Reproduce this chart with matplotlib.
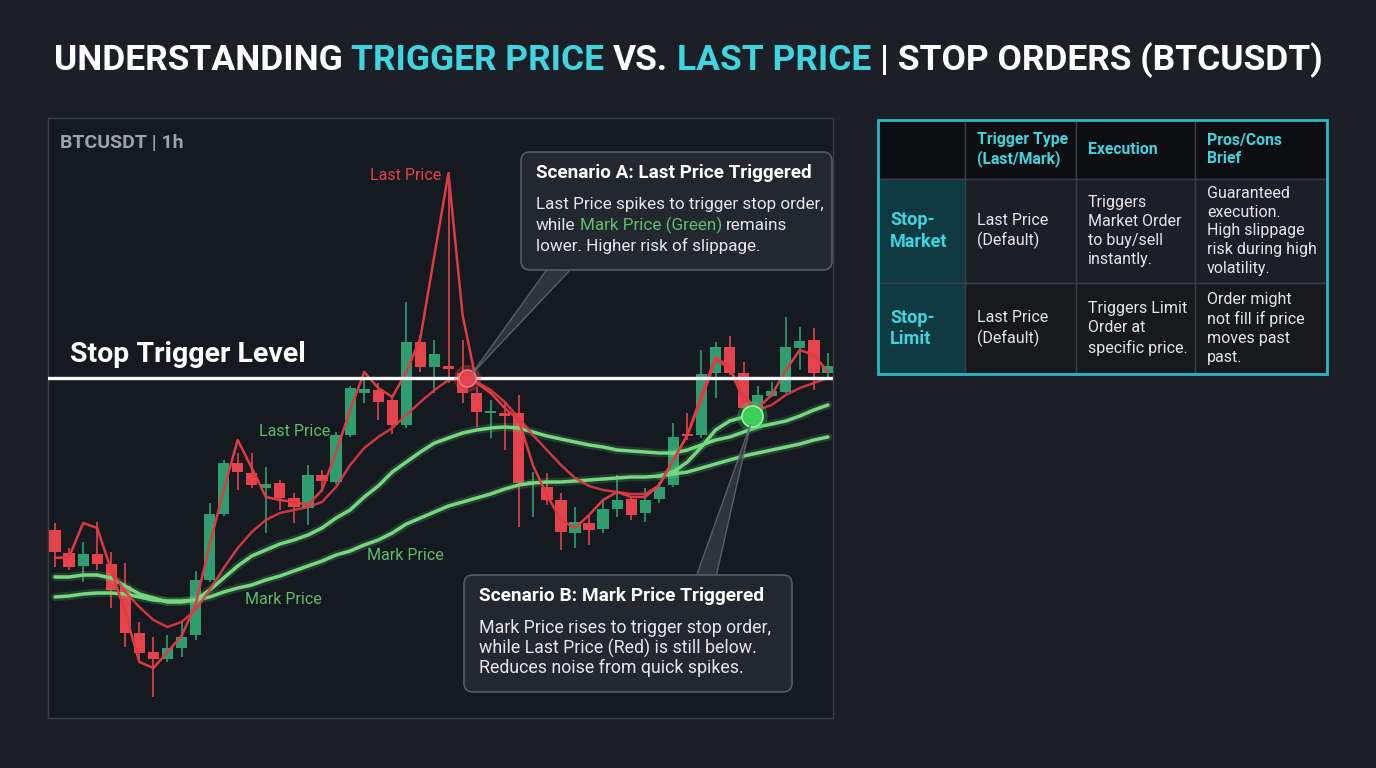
#!/usr/bin/env python3
"""Trigger price vs last price explainer chart (BTCUSDT 1h, stop orders)."""
import matplotlib

matplotlib.use("Agg")
import matplotlib.pyplot as plt
import numpy as np
from matplotlib.patches import FancyBboxPatch, Polygon, Rectangle

plt.rcParams["font.family"] = ["Roboto", "DejaVu Sans"]

BG = "#1c1f26"
PANEL = "#151920"
CYAN = "#40d4e0"
UP = "#2f9e6e"
DOWN = "#e5434b"
RED_LINE = "#e03a43"
GREEN_LINE = "#74d87e"
LABEL_GREEN = "#5fbd6c"
TEXT = "#e4e6e9"

# candle data, relative price levels (hourly)
opens = [170, 147, 134, 146, 136, 114, 67, 48, 41, 52, 65, 120, 186, 237, 227, 212,
         217, 202, 192, 225, 218, 265, 307, 310, 300, 275, 358, 333, 334, 327, 307, 287,
         287, 287, 216, 213, 200, 167, 177, 171, 191, 201, 187, 201, 215, 266, 265, 327,
         353, 327, 288, 304, 308, 352, 360, 327]
highs = [177, 152, 158, 178, 148, 137, 78, 63, 65, 78, 129, 197, 240, 247, 247, 233,
         220, 207, 235, 230, 268, 314, 320, 317, 303, 398, 365, 360, 525, 360, 313, 300,
         297, 305, 228, 227, 207, 193, 185, 200, 225, 204, 212, 218, 277, 287, 350, 358,
         364, 338, 314, 318, 383, 373, 372, 347]
lows = [133, 130, 118, 130, 92, 53, 40, 3, 38, 43, 60, 118, 184, 210, 212, 167,
        190, 177, 175, 208, 216, 263, 297, 280, 266, 272, 328, 307, 317, 297, 273, 262,
        250, 173, 183, 195, 150, 152, 155, 167, 183, 180, 178, 197, 213, 260, 262, 302,
        325, 290, 287, 303, 307, 330, 310, 320]
closes = [148, 133, 146, 136, 110, 67, 47, 41, 52, 63, 120, 186, 237, 228, 215, 216,
          202, 193, 225, 219, 265, 312, 311, 298, 275, 358, 333, 346, 331, 307, 288, 289,
          284, 217, 219, 200, 168, 178, 170, 191, 200, 185, 200, 213, 263, 264, 326, 353,
          327, 292, 305, 309, 353, 359, 327, 334]

last_price = [142, 143, 177, 172, 130, 87, 38, 32, 48, 64, 95, 155, 210, 260, 232, 203,
              200, 198, 195, 210, 248, 290, 328, 312, 303, 328, 362, 445, 527, 385, 317, 307,
              292, 280, 235, 205, 180, 172, 185, 200, 208, 203, 203, 215, 240, 265, 305, 343,
              332, 300, 292, 305, 330, 350, 345, 328]
last_price_avg = [130, 108, 93, 80, 73, 78, 90, 110, 132, 152, 168, 180, 187, 190, 193, 198,
                  213, 235, 252, 263, 272, 285, 298, 310, 320, 322, 318, 310, 298, 282, 265, 250,
                  235, 222, 214, 210, 208, 206, 206, 215, 240, 265, 300, 340, 332, 305, 290, 295,
                  305, 312, 317, 322]  # starts at candle 4
mark_fast = [123, 123, 125, 125, 122, 114, 106, 102, 98, 98, 100, 110, 122, 134, 144, 150,
             156, 160, 165, 172, 182, 190, 203, 214, 228, 238, 248, 257, 262, 267, 270, 272,
             273, 272, 268, 264, 261, 258, 255, 253, 250, 249, 248, 247, 247, 250, 255, 260,
             263, 268, 273, 276, 279, 284, 290, 295]
mark_slow = [103, 104, 106, 107, 107, 106, 103, 100, 99, 99, 100, 103, 108, 112, 115, 120,
             124, 129, 134, 139, 145, 149, 155, 160, 167, 176, 182, 188, 194, 198, 202, 206,
             211, 215, 217, 218, 218, 219, 220, 221, 222, 223, 223, 224, 226, 228, 232, 236,
             240, 244, 247, 250, 253, 256, 260, 263]
mark_trigger = [224, 228, 238, 253, 270, 279, 283]  # candles 43-49
STOP_LEVEL = 322
LAST_TRIGGER = (29.3, 322)
MARK_TRIGGER = (49.6, 284)

fig = plt.figure(figsize=(13.76, 7.68), dpi=100, facecolor=BG)

# price panel
ax = fig.add_axes([48 / 1376, 50 / 768, 785 / 1376, 600 / 768])
ax.set_facecolor(PANEL)
for sp in ax.spines.values():
    sp.set_color("#3a3f48")
    sp.set_linewidth(1.0)
ax.set_xticks([])
ax.set_yticks([])
ax.set_xlim(-0.5, 55.36)
ax.set_ylim(-18, 582)

o = np.array(opens)
h = np.array(highs)
l = np.array(lows)
c = np.array(closes)
idx = np.arange(len(o))
up = c >= o
colors = np.where(up, UP, DOWN)
bottoms = np.minimum(o, c)
heights = np.maximum(np.abs(c - o), 2.5)
ax.vlines(idx, l, h, colors=colors, lw=1.2, zorder=2)
ax.bar(idx, heights, bottom=bottoms, width=0.8, color=colors, zorder=3)

x_avg = np.arange(4, 4 + len(last_price_avg))
x_trig = np.arange(43, 43 + len(mark_trigger))
for xs, ys in [(idx, mark_fast), (idx, mark_slow), (x_trig, mark_trigger)]:
    ax.plot(xs, ys, color=GREEN_LINE, lw=6, alpha=0.18, solid_capstyle="round", zorder=4)
    ax.plot(xs, ys, color=GREEN_LINE, lw=2.5, solid_capstyle="round", zorder=5)
ax.plot(x_avg, last_price_avg, color=RED_LINE, lw=1.8, alpha=0.9, zorder=6)
ax.plot(idx, last_price, color=RED_LINE, lw=1.8, zorder=6)

ax.axhline(STOP_LEVEL, color="white", lw=2.4, zorder=7)

# trigger points
ax.scatter(*LAST_TRIGGER, s=380, color=DOWN, alpha=0.35, zorder=8, linewidths=0)
ax.scatter(*LAST_TRIGGER, s=150, color=DOWN, edgecolors="#f08088", linewidths=1, zorder=9)
ax.scatter(*MARK_TRIGGER, s=480, color="#3ccf5a", alpha=0.3, zorder=8, linewidths=0)
ax.scatter(*MARK_TRIGGER, s=230, color="#3ccf5a", edgecolors="#9ff0a8", linewidths=1.2, zorder=9)

# overlay in pixel units
top = fig.add_axes([0, 0, 1, 1], zorder=10)
top.set_xlim(0, 1376)
top.set_ylim(768, 0)
top.axis("off")
top.patch.set_alpha(0)

renderer = fig.canvas.get_renderer()


def text_width(s, size, weight):
    t = top.text(0, 0, s, fontsize=size, fontweight=weight)
    w = t.get_window_extent(renderer=renderer).width
    t.remove()
    return w


def rich_line(x, y, parts, size, weight="normal", center=False):
    space = text_width("x x", size, weight) - text_width("xx", size, weight)
    widths = []
    for s, _ in parts:
        n_lead = len(s) - len(s.lstrip(" "))
        n_trail = len(s) - len(s.rstrip(" "))
        core = s.strip(" ")
        widths.append((n_lead, core, text_width(core, size, weight) if core else 0, n_trail))
    total = sum(a * space + w + b * space for a, _, w, b in widths)
    if center:
        x = x - total / 2
    for (lead, core, w, trail), (_, color) in zip(widths, parts):
        x += lead * space
        top.text(x, y, core, color=color, fontsize=size, fontweight=weight, va="center",
                 ha="left", zorder=3)
        x += w + trail * space


def to_px(pt):
    disp = ax.transData.transform(pt)
    return top.transData.inverted().transform(disp)


# title
rich_line(688, 60, [("UNDERSTANDING ", "white"), ("TRIGGER PRICE", CYAN), (" VS. ", "white"),
                    ("LAST PRICE", CYAN), (" | STOP ORDERS (BTCUSDT)", "white")],
          size=25.5, weight="bold", center=True)

top.text(60, 143, "BTCUSDT | 1h", color="#9ea3ab", fontsize=14, fontweight="bold", va="center")
top.text(70, 355, "Stop Trigger Level", color="white", fontsize=20.5, fontweight="bold", va="center")
top.text(406, 175, "Last Price", color=DOWN, fontsize=11.5, ha="center", va="center")
top.text(295, 431, "Last Price", color=LABEL_GREEN, fontsize=11.5, ha="center", va="center")
top.text(405, 555, "Mark Price", color=LABEL_GREEN, fontsize=11.5, ha="center", va="center")
top.text(283, 599, "Mark Price", color=LABEL_GREEN, fontsize=11.5, ha="center", va="center")

# scenario callouts
tip_a = to_px((LAST_TRIGGER[0] + 0.3, LAST_TRIGGER[1] + 3))
tip_b = to_px((MARK_TRIGGER[0] - 0.1, MARK_TRIGGER[1] - 8))
top.add_patch(Polygon([(548, 268), (572, 268), tip_a], closed=True, facecolor="#3a3f47",
                      edgecolor="#6b7179", lw=1, alpha=0.75, zorder=1))
top.add_patch(Polygon([(696, 577), (716, 577), tip_b], closed=True, facecolor="#3a3f47",
                      edgecolor="#6b7179", lw=1, alpha=0.75, zorder=1))
for bx, by, bw, bh in [(521, 152, 311, 118), (464, 575, 328, 117)]:
    top.add_patch(FancyBboxPatch((bx, by), bw, bh, boxstyle="round,pad=0,rounding_size=9",
                                 facecolor="#23272e", edgecolor="#565c64", lw=1.2, zorder=2))

top.text(536, 173, "Scenario A: Last Price Triggered", color="white", fontsize=13.6,
         fontweight="bold", va="center", zorder=3)
rich_line(536, 204, [("Last Price spikes to trigger stop order,", TEXT)], size=12.3)
rich_line(536, 225, [("while ", TEXT), ("Mark Price (Green)", LABEL_GREEN), (" remains", TEXT)], size=12.3)
rich_line(536, 246, [("lower. Higher risk of slippage.", TEXT)], size=12.3)

top.text(479, 596, "Scenario B: Mark Price Triggered", color="white", fontsize=13.8,
         fontweight="bold", va="center", zorder=3)
for yy, line in zip([628, 648, 668], ["Mark Price rises to trigger stop order,",
                                      "while Last Price (Red) is still below.",
                                      "Reduces noise from quick spikes."]):
    top.text(479, yy, line, color=TEXT, fontsize=12.8, va="center", zorder=3)

# comparison table
col_x = [878, 965, 1076, 1195, 1327]
row_y = [120, 179, 283, 374]
headers = ["", "Trigger Type\n(Last/Mark)", "Execution", "Pros/Cons\nBrief"]
row_labels = ["Stop-\nMarket", "Stop-\nLimit"]
cells = [
    ["Last Price\n(Default)", "Triggers\nMarket Order\nto buy/sell\ninstantly.",
     "Guaranteed\nexecution.\nHigh slippage\nrisk during high\nvolatility."],
    ["Last Price\n(Default)", "Triggers Limit\nOrder at\nspecific price.",
     "Order might\nnot fill if price\nmoves past\npast."],
]

for r in range(3):
    for k in range(4):
        x0, x1 = col_x[k], col_x[k + 1]
        y0, y1 = row_y[r], row_y[r + 1]
        if r == 0:
            fc = "#0c0e11"
        elif k == 0:
            fc = "#0f3a41"
        else:
            fc = "#1c1f24" if r == 1 else "#17191d"
        top.add_patch(Rectangle((x0, y0), x1 - x0, y1 - y0, facecolor=fc,
                                edgecolor="#3a3f45", lw=1, zorder=1))
top.add_patch(Rectangle((col_x[0], row_y[0]), col_x[-1] - col_x[0], row_y[-1] - row_y[0],
                        facecolor="none", edgecolor="#2bb7c3", lw=2, zorder=4))

for k, head in enumerate(headers):
    if head:
        top.text(col_x[k] + 12, (row_y[0] + row_y[1]) / 2, head, color=CYAN, fontsize=11.3,
                 fontweight="bold", va="center", linespacing=1.3, zorder=3)
for r in range(2):
    yc = (row_y[r + 1] + row_y[r + 2]) / 2
    top.text(col_x[0] + 12, yc, row_labels[r], color=CYAN, fontsize=13, fontweight="bold",
             va="center", linespacing=1.25, zorder=3)
    for k, txt in enumerate(cells[r]):
        top.text(col_x[k + 1] + 12, yc, txt, color=TEXT, fontsize=11.5, va="center",
                 linespacing=1.32, zorder=3)

fig.savefig("out.png", dpi=100, facecolor=BG)
